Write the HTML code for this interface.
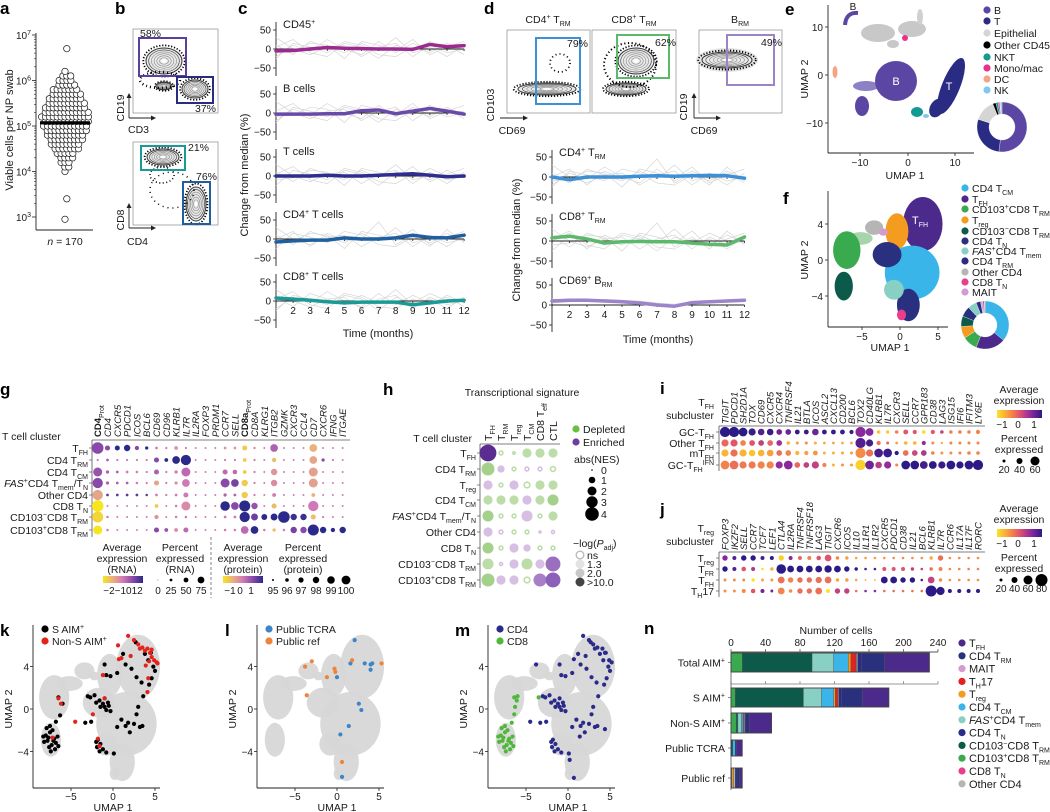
<!DOCTYPE html>
<html><head><meta charset="utf-8">
<style>
body{margin:0;background:#fff;width:1050px;height:812px;overflow:hidden}
svg{font-family:"Liberation Sans",Arial,sans-serif;display:block}
</style></head>
<body>
<svg id="fig" width="1050" height="812" viewBox="0 0 1050 812" xmlns="http://www.w3.org/2000/svg"></svg>
<script>
// ================= DATA =================
const aLogBins=[2.95,3.4,4.0,4.1,4.2,4.3,4.4,4.5,4.6,4.7,4.8,4.9,5.0,5.1,5.2,5.3,5.4,5.5,5.6,5.7,5.8,5.9,6.0,6.1,6.2,6.7];
const aCounts=[1,1,1,2,3,4,5,7,8,9,10,11,12,12,13,12,11,10,9,8,7,5,4,3,1,1];
const aMedianLog=5.07;
const aTicks=[3,4,5,6,7];
const months=[1,2,3,4,5,6,7,8,9,10,11,12];
const monthLabels=[2,3,4,5,6,7,8,9,10,11,12];
const cTitles=['CD45<tspan font-size="7" baseline-shift="4">+</tspan>','B cells','T cells','CD4<tspan font-size="7" baseline-shift="4">+</tspan> T cells','CD8<tspan font-size="7" baseline-shift="4">+</tspan> T cells'];
const cMeanCD45=[-5,-4,0,4,2,1,0,0,-1,12,6,9];
const cMeanB=[-3,-3,-3,-2,-2,6,8,-2,5,12,5,-3];
const cMeanT=[0,0,0,2,0,0,2,4,6,2,-2,0];
const cMeanCD4=[-8,-5,-3,-3,3,0,0,3,10,4,3,10];
const cMeanCD8=[8,5,2,-2,-5,-3,-3,-3,-10,-5,0,2];
const dMeanCD4TRM=[0,-7,0,0,0,2,3,2,3,4,3,-3];
const dMeanCD8TRM=[8,12,5,-5,-2,-1,-2,-2,-5,-8,-10,10];
const dMeanBRM=[10,12,12,10,8,5,0,-3,6,8,10,12];
const grayA=[10,-15,20,5,-10,15,-5,30,-10,5,-20,10];
const grayB=[-20,10,-5,25,0,-15,20,-10,15,-5,10,-15];
const grayC=[5,25,-10,-20,15,5,-25,10,-5,20,0,5];
const grayD=[-10,-5,15,10,-25,20,10,-5,25,-15,5,20];
const grayE=[30,0,-15,5,10,-20,5,15,-20,10,-10,0];
const grayF=[-25,15,5,-10,20,10,-15,-20,5,-10,15,-5];
const grayG=[0,20,-20,15,-5,0,45,-15,10,-20,25,-10];
const eCats=['B','T','Epithelial','Other CD45+','NKT','Mono/mac','DC','NK'];
const eFrac=[52,28,14,2,1.5,1,0.5,1];
const fCats=['CD4 TCM','TFH','CD103+CD8 TRM','Treg','CD103−CD8 TRM','CD4 TN','FAS+CD4 Tmem','CD4 TRM','Other CD4','CD8 TN','MAIT'];
const fFrac=[36,20,10,8,7,7,6,3,1.5,1,0.5];
const gGenes=['CD4','CD4','CXCR5','PDCD1','ICOS','BCL6','CD69','CD96','KLRB1','IL7R','IL2RA','FOXP3','PRDM1','CCR7','SELL','CD8a','CD8A','KLRG1','ITGB2','GZMK','CXCR3','CCL4','CD7','CXCR6','IFNG','ITGAE'];
const gProt=[0,15];
const gClusters=['T<tspan font-size="7" baseline-shift="-3">FH</tspan>','CD4 T<tspan font-size="7" baseline-shift="-3">RM</tspan>','CD4 T<tspan font-size="7" baseline-shift="-3">CM</tspan>','<tspan font-style="italic">FAS</tspan><tspan font-size="7" baseline-shift="4">+</tspan>CD4 T<tspan font-size="7" baseline-shift="-3">mem</tspan>/T<tspan font-size="7" baseline-shift="-3">N</tspan>','Other CD4','CD8 T<tspan font-size="7" baseline-shift="-3">N</tspan>','CD103<tspan font-size="7" baseline-shift="4">−</tspan>CD8 T<tspan font-size="7" baseline-shift="-3">RM</tspan>','CD103<tspan font-size="7" baseline-shift="4">+</tspan>CD8 T<tspan font-size="7" baseline-shift="-3">RM</tspan>'];
const gColor=[
[1,1,2,2,1,2,0,0,-0.5,0,0,0,0,-0.5,-0.5,-1.5,0,0,0.5,0,0,0,-1,0,0,0],
[0,0.5,0,0,0,0,1,2,2,2,0,0,0,0,0,-1.5,0,0,-1.2,0,0,0,-0.8,1,0,0],
[0.8,0.5,0.5,0,0,0,0.5,0,0,0.3,0,0,0,0.3,0.3,-1.5,0,0,-0.5,0,0,0,-0.7,0,0,0],
[1,0.5,0.5,0.5,0,0,-0.8,0,-0.5,0,0,0,0,1,1.2,-1.5,0,0,-0.3,0,0,0,-0.7,0,0,0],
[-0.8,1.5,1.5,1.5,1.5,1.5,0,0,0,0,0,0,0,0.5,0.5,-1.5,0,0,0,0,0,0,-1,0,0,0],
[-2,0,0,0,0,0,-1.5,0,0,-0.3,0,0,0,2,1,2,0.8,0,-1.2,0,0,0,0,0,0,0],
[-1.7,0,0,0,0,0,-0.5,0,0,0,0,0,0,0,0,2,1.3,2,2,2,1.8,1.8,-1.2,0,0,0],
[-2,0,0,0,0,0,1,0.8,-0.3,0.3,0,0,0,0,0,0.3,2,0,-1.2,0,1.2,1,2,2,2,2]];
const gSize=[
[4,1.5,1.5,2,1.2,0.8,0.6,0.4,1,0.4,0.3,0.3,0.3,0.6,0.6,1.5,0.4,0.3,2.5,0.3,0.3,0.3,2.5,0.3,0.3,0.3],
[0.4,0.6,0.4,0.4,0.4,0.4,1.5,1,2.5,3.5,0.3,0.3,0.3,0.4,0.4,1,0.4,0.3,1.2,0.3,0.3,0.3,2.5,0.8,0.4,0.3],
[3,0.8,0.6,0.6,0.5,0.4,1.5,0.4,0.8,3,0.3,0.3,0.3,1.5,1.3,1,0.4,0.3,2,0.3,0.3,0.3,3,0.3,0.3,0.3],
[3.5,0.8,0.6,0.6,0.5,0.4,1.5,0.4,0.8,2.5,0.3,0.3,0.3,3,2.5,2,0.4,0.3,2,0.3,0.3,0.3,3,0.3,0.3,0.3],
[3.5,0.6,0.6,0.6,0.6,0.5,0.6,0.4,0.6,1.5,0.3,0.3,0.3,0.8,0.6,2,0.4,0.3,1,0.3,0.3,0.3,1,0.3,0.3,0.3],
[4,0.3,0.3,0.3,0.3,0.3,1,0.3,0.5,3,0.3,0.3,0.3,3.2,2.5,3.8,2,0.3,1.5,0.3,0.3,0.3,3.5,0.3,0.3,0.3],
[3.8,0.5,0.3,0.3,0.3,0.3,1.2,0.3,0.5,0.5,0.3,0.3,0.3,0.6,0.6,3.5,2.2,1.8,2.2,4,2,2,1.5,0.4,0.3,0.3],
[3,0.5,0.3,0.3,0.3,0.3,1.5,1,1,1.5,0.3,0.3,0.3,0.5,0.5,2.5,2.5,0.5,0.8,0.5,2,2,3.8,2,1.2,2]];
const hSignatures=['FH','RM','reg','CM','CD8 T','CTL'];
const hNES=[
[4,-1,-0.6,-2,-2,-2],
[-3,1.5,-1,1,1,-1.3],
[2,-1,2,-1.5,-2,-2],
[-2,-2,-2,2,-2,-2.5],
[-2.5,-1,-1,2.5,-1,-2],
[2,1,-1,-1,0,0.8],
[-2.5,-1,2,1.5,-1,-1],
[-2.5,0.8,2,-2.5,2,3.5],
[-3,2,2,-1.5,3,3.5]];
const hSig=[
[3,0,0,1,1,1],
[2,1,0,0,0,0],
[1,0,1,0,1,1],
[1,1,1,1,1,2],
[2,0,0,1,0,1],
[1,0,0,0,0,0],
[2,0,1,1,0,0],
[1,0,1,1,1,2],
[2,1,1,0,2,2]];
const iGenes=['TIGIT','PDCD1','SH2D1A','TOX','CD69','CXCR5','CXCR4','TNFRSF4','IL21','BTLA','ICOS','ASCL2','CXCL13','CD200','BCL6','TOX2','CD40LG','KLRB1','IL7R','CXCR3','SELL','CCR7','GPR183','CD38','LAG3','ISG15','IFI6','IFITM3','LY6E'];
const iRows=['GC-T<tspan font-size="7" baseline-shift="-3">FH</tspan>','Other T<tspan font-size="7" baseline-shift="-3">FH</tspan>','mT<tspan font-size="7" baseline-shift="-3">FH</tspan>','GC-T<tspan font-size="7" baseline-shift="-3">FH</tspan><tspan font-size="7" baseline-shift="4">IFN</tspan>'];
const iColor=[
[1.5,1.5,1.5,1.4,1.2,1.4,1,1,1.4,1.4,1,1.4,1.4,1.4,1.4,0.8,0.8,-1.2,-1.3,-0.5,0,0,-1.4,0,0.3,-0.5,-0.5,-0.5,-0.5],
[-0.2,0,-0.5,0,0.3,-0.2,0.6,-1,-0.8,-0.6,-1,-0.9,-0.8,-0.9,-0.8,1.2,1.3,-0.3,-0.2,-0.8,-1,-1,0.7,-0.6,-1,-0.5,-0.5,-0.5,-0.5],
[-1,-0.3,-1,-1.2,-1,-0.8,-0.3,-0.5,-1,-0.8,-0.7,-1,-1,-0.9,-0.8,-0.6,-0.3,1.3,1.4,1.5,-0.3,0.2,0.5,-0.5,-0.7,-0.6,-0.5,-0.5,-0.5],
[-0.5,-0.3,-0.4,-0.4,-0.5,-0.5,0.7,0.8,-0.2,0.3,0.3,-0.5,-1,-0.7,-0.8,-1.3,1,0.4,0.7,-0.5,1.5,1.5,1.3,1.5,1.4,1.5,1.5,1.5,1.5]];
const iSize=[
[3,3,2.5,2,1.8,1.8,1.5,1.5,1.2,1.2,1.8,1.2,1.2,1.2,1,3,2.2,0.8,0.8,0.8,1.2,1,0.8,1,0.8,0.8,0.8,0.8,1],
[2,2,1.5,1.5,1.5,1.5,1.5,0.8,0.6,0.6,0.6,0.5,0.5,0.5,0.5,3,2,1,0.6,0.5,0.8,0.8,1,0.6,0.4,0.6,0.6,0.6,0.6],
[2,2,2,1.8,1.8,1.8,1.5,1.5,1,1,1.2,0.6,0.6,0.6,0.6,3,2,2.5,2.5,1,1.5,1.5,1.5,0.8,0.6,0.6,0.6,0.8,0.8],
[2.5,2.5,2,2,2,2,2,2.5,1.5,1.5,2,1,0.6,0.6,0.6,3,2.5,1.8,2,0.6,2.5,2.5,2.2,2.2,2,2.5,2,2.5,3]];
const jGenes=['FOXP3','IKZF2','SELL','CCR7','TCF7','LEF1','CTLA4','IL2RA','TNFRSF4','TNFRSF18','LAG3','TIGIT','CXCR6','ICOS','IL10','IL1R1','IL1R2','CXCR5','PDCD1','CD38','IL21','BCL6','KLRB1','IL7R','CCR6','IL17A','IL17F','RORC'];
const jRows=['T<tspan font-size="7" baseline-shift="-3">reg</tspan>','T<tspan font-size="7" baseline-shift="-3">FR</tspan>','T<tspan font-size="7" baseline-shift="-3">FH</tspan>','T<tspan font-size="7" baseline-shift="-3">H</tspan>17'];
const jColor=[
[0.8,1.2,1.5,1.5,1.3,1.5,-1.3,0.8,-0.2,-0.5,0,0,-0.5,-0.8,-0.8,-0.8,-0.8,-0.7,-0.6,-0.6,-0.6,-0.6,-0.9,-0.3,-0.6,-0.6,-0.6,-0.6],
[1.5,1.2,0,0.5,-1.5,-1,1.5,1.5,1.5,1.5,1.5,1.5,1.5,1.5,1.5,1.3,1.3,0,0,0,0.3,0.3,-0.3,-0.5,-0.5,-0.5,-0.5,-0.5],
[-0.6,-0.6,-0.6,-1.5,-0.8,-0.7,-0.3,-0.5,-0.3,-0.3,-0.3,-0.3,-0.9,-0.8,-0.8,-0.8,-0.8,1.5,1.5,1.5,1.5,1.3,0.3,-0.6,-0.6,-0.6,-0.6,-0.6],
[-0.6,-0.6,-0.6,0,1,1,-0.5,-0.6,-0.3,-0.3,-0.3,-1.5,0.3,0.3,-0.3,0.8,0.8,-0.3,-0.3,-0.3,-0.3,-0.3,1.5,1.5,1.5,1.5,1.5,1.5]];
const jSize=[
[1.5,1,1.5,1.5,1,1,1.5,1,1,1,1.2,2,0.8,0.8,0.5,0.5,0.5,0.5,0.5,0.5,0.5,0.5,0.8,1.5,0.5,0.5,0.5,0.5],
[1.5,1,1.2,1,0.5,0.8,3,2,2,2,2,2.2,2,1.5,0.8,0.5,0.5,1,1,1,0.8,0.5,0.8,1,0.5,0.5,0.5,0.5],
[0.6,0.6,0.6,0.8,0.6,0.6,2,1.5,1.5,1.5,1.8,2,0.8,0.8,0.5,0.2,0.2,2,2,1.5,1.5,0.5,2,0.8,0.5,0.5,0.5,0.5],
[0.6,0.6,1,1.2,1,0.6,2,0.8,1.5,1.5,2,1,1.5,1.5,0.5,0.5,0.5,0.5,0.5,0.5,0.5,0.5,3.5,2.5,1,1,1,1]];
const kSpecific=[[-8,-2.5],[-7.8,-3],[-7.5,-2.2],[-7.3,-3.4],[-7,-2.8],[-7.6,-3.6],[-8.2,-3.1],[-6.8,-3.2],[-7.2,-2.0],[-6.6,-2.6],[-7.9,-1.8],[-7.4,-4.0],[-6.9,-3.8],[-8.3,-2.6],[-7.1,-3.0],[-7.7,-2.7],[-6.5,-3.5],[-7.5,-1.6],
[-6.5,1.1],[-6,0.5],[-6.3,-0.6],[-6.8,-1.2],
[-3,1.2],[-2.7,1.1],[-2.2,1.3],[-1.6,0.8],[-1.2,0.5],[-1,0.2],[-0.8,-0.1],[-0.5,0.3],[-1.5,0.2],[-2,0.6],[-0.3,-0.2],[-1,1],[-0.6,0.6],[-3.3,-1.3],[-2.6,-1.2],
[-1.8,-2.9],[-1.5,-3.3],[-1.2,-3.8],[-1.9,-3.6],[-0.8,-4.1],[-1.6,-4.0],[0.1,-4.2],[-2.0,-3.1],
[1,-1],[1.5,-1.6],[2.5,-1.4],[3.2,-1.7],[2,-2.2],[1.8,-1.3],[3.5,-1.6],[0.5,-1.7],[3,0.2],[2.8,-0.5],
[-1,4.2],[-0.8,3.2],[-0.3,3.1],[0.5,3.4],[1.5,4.2],[2.2,3.8],[2.8,3.0],[3.4,2.5],[4.3,2.3],[4.6,2.9],[4.8,4.0],[5,3.6],[3.6,1.2],[4.2,4.6],[3.8,5.2],[2.7,6.3],[4.5,5.3],[1.2,5.2]];
const kNonSpecific=[[1.8,6.9],[2.5,6.5],[3.0,6.1],[3.5,5.8],[3.8,5.5],[4.1,5.7],[4.4,5.3],[4.6,4.9],[4.9,4.6],[5.2,4.4],[5.3,4.3],[4.3,4.5],[3.9,4.1],[4.6,5.6],[3.2,5.7],[2.1,5.0],[1.0,4.8],[0.7,4.7],[-1.2,3.2],[4.2,2.9],[4.1,1.6],[-6.5,1.0],[-6.2,0.5],[-4.5,-1.2],[-2.4,-0.5],[-1.8,-2.8],[-1.6,-3.5],[-7.2,-2.7],[-1.0,1.0],[0.6,6.0]];
const lPublicTCRA=[[2.1,6.5],[1.6,4.3],[3.3,4.3],[4.0,4.2],[4.2,4.3],[4.0,3.7],[0,3.0],[2.6,0.5],[2.9,-0.1],[1.4,-1.6],[0.4,-2.4],[0.6,-6.4]];
const lPublicRef=[[-3.8,4.0],[-3.0,4.5],[-0.3,3.8],[-0.2,3.5],[-1.2,3.0],[-3.6,1.3],[1.8,4.6],[5.3,4.3],[0.6,-5.0]];
const mCD8=[[-8,-2.5],[-7.8,-3],[-7.5,-2.2],[-7.3,-3.4],[-7,-2.8],[-7.6,-3.6],[-8.2,-3.1],[-6.8,-3.2],[-7.2,-2.0],[-6.6,-2.6],[-7.9,-1.8],[-7.4,-4.0],[-6.9,-3.8],[-8.3,-2.6],[-7.1,-3.0],[-7.7,-2.7],[-6.5,-3.5],[-7.5,-1.6],[-6.4,1.1],[-6.1,0.8],[-6.3,0.2],[-6.4,-0.5],[-6.7,-1.3],[-3.5,1.1],[-6.0,1.2]];
const mCD4=[[-3,1.2],[-2.7,1.1],[-2.2,1.3],[-1.6,0.8],[-1.2,0.5],[-1,0.2],[-0.8,-0.1],[-0.5,0.3],[-1.5,0.2],[-2,0.6],[-0.3,-0.2],[-1,1],[-0.6,0.6],[-4.5,-1.2],[-3.3,-1.3],[-2.6,-1.2],
[-1.8,-2.9],[-1.5,-3.3],[-1.2,-3.8],[-1.9,-3.6],[-0.8,-4.1],[-1.6,-4.0],[0.1,-4.2],[-2.0,-3.1],[0.7,-6.5],[0.2,-4.8],
[1,-1],[1.5,-1.6],[2.5,-1.4],[3.2,-1.7],[2,-2.2],[1.8,-1.3],[3.5,-1.6],[0.5,-1.7],[3,0.2],[2.8,-0.5],[4.4,-1.9],[1.4,-2.6],
[-3.8,4.2],[-1,4.2],[-0.8,3.2],[-0.3,3.1],[0.5,3.4],[1.5,4.2],[2.2,3.8],[2.8,3.0],[3.4,2.5],[4.3,2.3],[4.6,2.9],[4.8,4.0],[5,3.6],[3.6,1.2],[4.2,4.6],[3.8,5.2],[2.7,6.3],[4.5,5.3],[1.2,5.2],
[1.8,6.9],[2.5,6.5],[3.0,6.1],[3.5,5.8],[4.1,5.7],[4.4,5.3],[4.9,4.6],[5.2,4.4],[3.2,5.7],[2.1,5.0],[0.7,4.7]];
const nSamples=['Total AIM<tspan font-size="7" baseline-shift="4">+</tspan>','S AIM<tspan font-size="7" baseline-shift="4">+</tspan>','Non-S AIM<tspan font-size="7" baseline-shift="4">+</tspan>','Public TCRA','Public ref'];
const nSeries=['CD103+CD8 TRM','CD103−CD8 TRM','FAS+CD4 Tmem','CD4 TCM','Treg','TH17','MAIT','Other CD4','CD8 TN','CD4 TN','CD4 TRM','TFH'];
const nCounts=[
[13,81,25,17,3,6,1,1,0,4,27,52],
[5,79,21,14,2,3,0,1,0,3,24,31],
[6,2,4,2,0,1,0,1,0,1,4,26],
[0,2,0,3,0,0,0,0,0,1,0,7],
[0,1,0,0,2,0,0,2,0,2,3,3]];
const nTicks=[0,40,80,120,160,200,240];

// ================= HELPERS =================
const NS='http://www.w3.org/2000/svg';
const svg=document.getElementById('fig');
function mk(tag,attrs,parent){const e=document.createElementNS(NS,tag);for(const k in attrs)e.setAttribute(k,attrs[k]);(parent||svg).appendChild(e);return e;}
function tx(x,y,html,o){o=o||{};const e=mk('text',{x:x,y:y,'font-size':o.fs||10,'text-anchor':o.a||'start',fill:o.fill||'#1a1a1a'},o.p);if(o.rot)e.setAttribute('transform','rotate('+o.rot+' '+x+' '+y+')');if(o.it)e.setAttribute('font-style','italic');if(o.bold)e.setAttribute('font-weight','bold');e.innerHTML=html;return e;}
function line(x1,y1,x2,y2,st,w,p){return mk('line',{x1:x1,y1:y1,x2:x2,y2:y2,stroke:st||'#222','stroke-width':w||0.8},p);}
const SUB=s=>'<tspan font-size="7" baseline-shift="-3">'+s+'</tspan>';
const SUP=s=>'<tspan font-size="7" baseline-shift="4">'+s+'</tspan>';
function hex2rgb(h){return [parseInt(h.substr(1,2),16),parseInt(h.substr(3,2),16),parseInt(h.substr(5,2),16)];}
function scale(stops,lo,hi,v){let t=(v-lo)/(hi-lo);t=Math.max(0,Math.min(1,t))*(stops.length-1);const i=Math.min(stops.length-2,Math.floor(t));const f=t-i;const a=hex2rgb(stops[i]),b=hex2rgb(stops[i+1]);return 'rgb('+a.map((c,k)=>Math.round(c+(b[k]-c)*f)).join(',')+')';}
const gStops=['#f7e51d','#eab07e','#d179b6','#8a49a8','#2b2a8a'];
const pStops=['#fbe424','#f99a3d','#e2546b','#8e2a9e','#2c1a86'];
function panelLabel(x,y,s){const t=tx(x,y,s,{fs:17,bold:1,fill:'#000'});

}
const defs=mk('defs',{});
function grad(id,stops){const g=mk('linearGradient',{id:id,x1:0,x2:1,y1:0,y2:0},defs);stops.forEach((c,i)=>mk('stop',{offset:i/(stops.length-1),'stop-color':c},g));}
grad('gGrad',gStops);grad('pGrad',pStops);

['a','b','c','d'].forEach((s,i)=>panelLabel([0,115,238,484][i],14,s));
panelLabel(785,15,'e');panelLabel(783,204,'f');panelLabel(0,395,'g');panelLabel(383,395,'h');
panelLabel(660,394,'i');panelLabel(660,515,'j');panelLabel(0,636,'k');panelLabel(225,636,'l');panelLabel(455,636,'m');panelLabel(644,634,'n');

// ================= PANEL A =================
(function(){
const g=mk('g',{});


const yA=v=>217-(v-3)*45.5;
line(36,33,36,230,'#222',0.9,g);line(36,230,93,230,'#222',0.9,g);
aTicks.forEach(t=>{line(32,yA(t),36,yA(t),'#222',0.8,g);
const lb=tx(31,yA(t)+4,'10'+SUP(t),{fs:10,a:'end',p:g});

if(t<7)for(let m=2;m<10;m++){line(34,yA(t+Math.log10(m)),36,yA(t+Math.log10(m)),'#222',0.6,g);}});
const yt=tx(13,130,'Viable cells per NP swab',{fs:11,a:'middle',rot:-90,p:g});

aLogBins.forEach((b,i)=>{const n=aCounts[i];const off=(i%2)*1.8;for(let j=0;j<n;j++){const c=mk('circle',{cx:65+(j-(n-1)/2)*3.9+off,cy:yA(b),r:3.2,fill:'#fff',stroke:'#222','stroke-width':0.75},g);
}});
const med=mk('rect',{x:40,y:yA(aMedianLog)-1.6,width:50,height:3.2,fill:'#000'},g);

const nl=tx(65,245,'<tspan font-style="italic">n</tspan> = 170',{fs:10.5,a:'middle',p:g});

})();

// ================= FLOW PLOT HELPERS =================
function contour(cx,cy,rx,ry,p){
mk('ellipse',{cx:cx,cy:cy,rx:rx*1.15,ry:ry*1.2,fill:'none',stroke:'#000','stroke-width':1.8,'stroke-dasharray':'1.2 1.8'},p);
for(let k=0;k<6;k++){const f=1-k*0.15;mk('ellipse',{cx:cx,cy:cy,rx:rx*f,ry:ry*f,fill:k==0?'#e8e8e8':'none',stroke:k<2?'#333':'#888','stroke-width':k<1?1:0.6},p);}
mk('ellipse',{cx:cx,cy:cy,rx:rx*0.15,ry:ry*0.15,fill:'#fff'},p);}
function frame(x,y,w,h,p){mk('rect',{x:x,y:y,width:w,height:h,fill:'#fff',stroke:'#999','stroke-width':0.8},p);}
function gate(x,y,w,h,col,p){const r=mk('rect',{x:x,y:y,width:w,height:h,fill:'none',stroke:col,'stroke-width':2},p);

}
function axArrow(x,y,p){line(x,y,x,y-22,'#222',0.9,p);mk('path',{d:'M'+(x-2.5)+','+(y-20)+' L'+x+','+(y-25)+' L'+(x+2.5)+','+(y-20)+'Z',fill:'#222'},p);
line(x,y,x+24,y,'#222',0.9,p);mk('path',{d:'M'+(x+22)+','+(y-2.5)+' L'+(x+27)+','+y+' L'+(x+22)+','+(y+2.5)+'Z',fill:'#222'},p);}

// ================= PANEL B =================
(function(){
const g=mk('g',{});


frame(133,29,85,84,g);
contour(164,61,18,13,g);contour(195,89,13,9,g);contour(164,86,8,4,g);
mk('ellipse',{cx:160,cy:80,rx:20,ry:8,fill:'none',stroke:'#000','stroke-width':2.5,'stroke-dasharray':'1 3'},g);
gate(139,38,47,38,'#5b3f9e',g);gate(177,77,36,26,'#2a2c84',g);
tx(140,37,'58%',{fs:10.5,p:g});tx(195,112,'37%',{fs:10.5,p:g});
axArrow(129,118,g);tx(124,108,'CD19',{fs:10.5,a:'middle',rot:-90,p:g});tx(128,133,'CD3',{fs:10.5,p:g});
frame(133,142,85,83,g);
contour(163,157,16,8,g);contour(196,204,10,17,g);
mk('ellipse',{cx:172,cy:190,rx:22,ry:18,fill:'none',stroke:'#000','stroke-width':1.5,'stroke-dasharray':'1 4'},g);
mk('ellipse',{cx:162,cy:175,rx:12,ry:8,fill:'none',stroke:'#000','stroke-width':1.6,'stroke-dasharray':'1 2.5'},g);
gate(141,146,44,24,'#1a9a96',g);gate(183,182,27,42,'#1f5fa0',g);
tx(188,151,'21%',{fs:10.5,p:g});tx(196,180,'76%',{fs:10.5,p:g});
axArrow(129,228,g);tx(124,220,'CD8',{fs:10.5,a:'middle',rot:-90,p:g});tx(127,245,'CD4',{fs:10.5,p:g});
})();

// ================= PANEL C / D LINE PLOTS =================
function tsPlot(p,ax,zero,k,m1,step,mean,col,title,showMonths,grays){
line(ax,zero-27,ax,zero+27,'#222',0.9,p);
[[50,'50'],[0,'0'],[-50,'−50']].forEach(t=>{line(ax-3,zero-t[0]*k,ax,zero-t[0]*k,'#222',0.8,p);tx(ax-5,zero-t[0]*k+3.5,t[1],{fs:10,a:'end',p:p});});
const X=m=>m1+(m-1)*step;
grays.forEach(s=>{const pl=mk('polyline',{points:s.map((v,i)=>X(months[i])+','+(zero-v*k)).join(' '),fill:'none',stroke:'#d6d6d6','stroke-width':0.7},p);
});
line(ax,zero,X(12),zero,'#222',0.9,p);
months.forEach(m=>line(X(m),zero,X(m),zero+2,'#222',0.8,p));
const ml=mk('polyline',{points:mean.map((v,i)=>X(months[i])+','+(zero-v*k)).join(' '),fill:'none',stroke:col,'stroke-width':3.5,'stroke-linejoin':'round','stroke-linecap':'round'},p);


tx(ax+7,zero-21,title,{fs:11,p:p});
if(showMonths)monthLabels.forEach(m=>tx(X(m),zero+13,String(m),{fs:10,a:'middle',p:p}));}
(function(){
const g=mk('g',{});


const zs=[49,113,176,239,301];
const means=[cMeanCD45,cMeanB,cMeanT,cMeanCD4,cMeanCD8];
const cols=['#9b2a8f','#6a4aa8','#2e2e8f','#1f5fa0','#1a9a96'];
const gs=[[grayA,grayB,grayC,grayD,grayE,grayF],[grayB,grayC,grayD,grayE,grayF],[grayC,grayD,grayE,grayF,grayA],[grayD,grayE,grayF,grayA,grayG],[grayE,grayF,grayA,grayB,grayC]];
zs.forEach((z,i)=>tsPlot(g,276,z,0.38,276,17.1,means[i],cols[i],cTitles[i],i==4,gs[i]));
const tt=tx(378,337,'Time (months)',{fs:11,a:'middle',p:g});

const yt=tx(248,175,'Change from median (%)',{fs:11,a:'middle',rot:-90,p:g});

})();
(function(){
const g=mk('g',{});


frame(507,30,83,83,g);frame(592,30,84,83,g);frame(699,30,83,83,g);
contour(547,89,29,6,g);
mk('ellipse',{cx:560,cy:63,rx:10,ry:9,fill:'none',stroke:'#000','stroke-width':1.8,'stroke-dasharray':'1 3'},g);
contour(636,61,18,13,g);contour(626,89,20,6,g);
mk('ellipse',{cx:630,cy:65,rx:26,ry:22,fill:'none',stroke:'#000','stroke-width':2,'stroke-dasharray':'1.2 2.5'},g);
mk('ellipse',{cx:727,cy:60,rx:31,ry:12,fill:'#e4e4e4',stroke:'none'},g);
contour(727,60,25,8,g);
gate(536,38,44,66,'#3d8fd6',g);gate(617,35,52,43,'#5cb86a',g);gate(727,35,47,50,'#9b84c8',g);
tx(567,47,'79%',{fs:10.5,p:g});tx(655,46,'62%',{fs:10.5,p:g});tx(761,46,'49%',{fs:10.5,p:g});
tx(548,23,'CD4'+SUP('+')+' T'+SUB('RM'),{fs:10.5,a:'middle',p:g});
tx(634,23,'CD8'+SUP('+')+' T'+SUB('RM'),{fs:10.5,a:'middle',p:g});
tx(740,23,'B'+SUB('RM'),{fs:10.5,a:'middle',p:g});
tx(494,105,'CD103',{fs:10.5,a:'middle',rot:-90,p:g});
line(500,118,525,118,'#222',0.9,g);mk('path',{d:'M523,115.5 L528,118 L523,120.5Z',fill:'#222'},g);
tx(512,134,'CD69',{fs:10.5,a:'middle',p:g});
axArrow(694,118,g);tx(687,107,'CD19',{fs:10.5,a:'middle',rot:-90,p:g});tx(704,134,'CD69',{fs:10.5,a:'middle',p:g});
const zs=[177,241,305];
const means=[dMeanCD4TRM,dMeanCD8TRM,dMeanBRM];
const cols=['#3d8fd6','#5cb86a','#9b84c8'];
const titles=['CD4'+SUP('+')+' T'+SUB('RM'),'CD8'+SUP('+')+' T'+SUB('RM'),'CD69'+SUP('+')+' B'+SUB('RM')];
const gs=[[grayA,grayB,grayG,grayD,grayE,grayF],[grayC,grayD,grayE,grayF,grayG,grayA],[[5,8,12,10,6,2,-2,0,4,8,12,15],[15,12,8,14,12,10,5,2,8,10,12,10]]];
zs.forEach((z,i)=>tsPlot(g,552,z,0.4,552,17.5,means[i],cols[i],titles[i],i==2,gs[i]));
const tt=tx(658,343,'Time (months)',{fs:11,a:'middle',p:g});

const yt=tx(520,240,'Change from median (%)',{fs:11,a:'middle',rot:-90,p:g});

})();

// ================= DONUT & LEGEND HELPERS =================
function donut(cx,cy,R,r,fracs,cols,p){const tot=fracs.reduce((a,b)=>a+b,0);let a0=-Math.PI/2;
fracs.forEach((f,i)=>{const a1=a0+f/tot*2*Math.PI;const lg=(a1-a0)>Math.PI?1:0;
const d='M'+(cx+R*Math.cos(a0))+','+(cy+R*Math.sin(a0))+' A'+R+','+R+' 0 '+lg+' 1 '+(cx+R*Math.cos(a1))+','+(cy+R*Math.sin(a1))+' L'+(cx+r*Math.cos(a1))+','+(cy+r*Math.sin(a1))+' A'+r+','+r+' 0 '+lg+' 0 '+(cx+r*Math.cos(a0))+','+(cy+r*Math.sin(a0))+'Z';
const s=mk('path',{d:d,fill:cols[i],stroke:'#fff','stroke-width':0.3},p);

a0=a1;});}
function legendItem(x,y,col,html,p,fs){const c=mk('circle',{cx:x,cy:y,r:3.6,fill:col},p);

const t=tx(x+7,y+4,html,{fs:fs||10.5,p:p});
}

// ================= PANEL E =================
(function(){
const g=mk('g',{});


line(828,5,828,153,'#222',0.9,g);line(828,153,974,153,'#222',0.9,g);
[[27,'10'],[75,'0'],[123,'−10']].forEach(t=>{line(825,t[0],828,t[0],'#222',0.8,g);tx(823,t[0]+4,t[1],{fs:10,a:'end',p:g});});
[[860,'−10'],[908,'0'],[955,'10']].forEach(t=>{line(t[0],153,t[0],156,'#222',0.8,g);tx(t[0],166,t[1],{fs:10,a:'middle',p:g});});
tx(905,179,'UMAP 1',{fs:10.5,a:'middle',p:g});tx(808,79,'UMAP 2',{fs:10.5,a:'middle',rot:-90,p:g});
const E=(cx,cy,rx,ry,f,rot)=>{const e=mk('ellipse',{cx:cx,cy:cy,rx:rx,ry:ry,fill:f},g);if(rot)e.setAttribute('transform','rotate('+rot+' '+cx+' '+cy+')');return e;};
E(878,33,17,9,'#c8c8c8');E(912,29,14,8,'#c8c8c8');E(893,44,6,4,'#c8c8c8');E(920,17,3,8,'#d0d0d0');
mk('path',{d:'M845,25 Q846,12 858,13',fill:'none',stroke:'#5b47a3','stroke-width':4},g);
E(866,86,13,5,'#8e80c4');E(862,106,7,10,'#5b47a3');
E(896,81,21,20,'#5b47a3');
E(951,86,9,30,'#2a2c84',22);E(937,108,7,10,'#2a2c84',30);
E(917,112,6,5,'#139a93');E(926,116,3,2,'#7fc9ee');
E(835,72,2.5,6,'#f4a582');E(905,38,3,3,'#e8338a');
tx(896,85,'B',{fs:11,a:'middle',fill:'#fff',p:g});tx(949,90,'T',{fs:11,a:'middle',fill:'#fff',p:g});tx(853,10,'B',{fs:10,a:'middle',p:g});
const ec=['#5b47a3','#2a2c84','#d5d5d5','#000','#139a93','#e8338a','#f4a582','#7fc9ee'];
const labs=['B','T','Epithelial','Other CD45'+SUP('+'),'NKT','Mono/mac','DC','NK'];
[10,21,33,45,57,68,79,90].forEach((y,i)=>legendItem(987,y,ec[i],labs[i],g,10.5));
donut(1002,127,25,13,eFrac,ec,g);
})();

// ================= UMAP SHAPES =================
const umapShapes=[[3,4,2.6,3.0,'#4b2a8c'],[-0.4,3.2,1.5,2.0,'#f39c1f'],[-3.4,3.6,1.2,0.8,'#b5b5b5'],[-5.2,2.4,1.6,0.7,'#a6d5ab'],[-7.0,1.1,1.8,2.1,'#3aaa4e'],[-7.4,-2.9,1.2,1.6,'#0b5a4a'],[1.6,-1.4,3.6,3.0,'#39b5ea'],[-1.7,0.6,1.9,1.4,'#28307f'],[1.1,-5.0,1.5,1.8,'#28307f'],[-0.8,-3.3,1.3,1.1,'#88cfc4'],[0.2,-6.1,0.6,0.6,'#e83e8c'],[-2.2,3.1,0.6,0.4,'#d49bcf']];
function umapBg(p,x0,y0,sx,sy,colored){umapShapes.forEach(s=>{const e=mk('ellipse',{cx:x0+sx*s[0],cy:y0-sy*s[1],rx:sx*s[2],ry:sy*s[3],fill:colored?s[4]:'#d7d7d7',opacity:colored?1:0.95},p);
});}

// ================= PANEL F =================
(function(){
const g=mk('g',{});


line(828,191,828,327,'#222',0.9,g);line(828,327,948,327,'#222',0.9,g);
[[224,'4'],[260,'0'],[296,'−4']].forEach(t=>{line(825,t[0],828,t[0],'#222',0.8,g);tx(823,t[0]+4,t[1],{fs:10,a:'end',p:g});});
[[862,'−5'],[900,'0'],[938,'5']].forEach(t=>{line(t[0],327,t[0],330,'#222',0.8,g);tx(t[0],340,t[1],{fs:10,a:'middle',p:g});});
tx(890,351,'UMAP 1',{fs:10.5,a:'middle',p:g});tx(808,260,'UMAP 2',{fs:10.5,a:'middle',rot:-90,p:g});
umapBg(g,900,260,7.6,9,true);
tx(920,224,'T'+SUB('FH'),{fs:11,fill:'#fff',a:'middle',p:g});
const fc=['#39b5ea','#4b2a8c','#3aaa4e','#f39c1f','#0b5a4a','#28307f','#88cfc4','#2a2a8a','#b5b5b5','#e83e8c','#d49bcf'];
const labs=['CD4 T'+SUB('CM'),'T'+SUB('FH'),'CD103'+SUP('+')+'CD8 T'+SUB('RM'),'T'+SUB('reg'),'CD103'+SUP('−')+'CD8 T'+SUB('RM'),'CD4 T'+SUB('N'),'<tspan font-style="italic">FAS</tspan>'+SUP('+')+'CD4 T'+SUB('mem'),'CD4 T'+SUB('RM'),'Other CD4','CD8 T'+SUB('N'),'MAIT'];
[188,199,209,220,231,241,251,261,272,282,292].forEach((y,i)=>legendItem(965,y,fc[i],labs[i],g,10.5));
donut(985,325,24,12,fFrac,fc,g);
})();

// ================= PANEL G =================
(function(){
const g=mk('g',{});


const rows=[448,460,472,483,495,506,517,530];
const X=i=>97.7+i*9.8;
line(92,440,92,537,'#555',0.8,g);line(92,440,350,440,'#555',0.8,g);
tx(2,440,'T cell cluster',{fs:10.5,p:g});
gGenes.forEach((gn,i)=>{const prot=gProt.indexOf(i)>=0;
const t=tx(X(i)+3.5,437,prot?'<tspan font-weight="bold">'+gn+'</tspan>'+SUB('Prot'):gn,{fs:9.5,rot:-90,it:!prot,p:g});
});
gClusters.forEach((c,r)=>{const t=tx(88,rows[r]+4,c,{fs:10.5,a:'end',p:g});

line(89,rows[r],92,rows[r],'#555',0.7,g);
gGenes.forEach((gn,i)=>{const d=mk('circle',{cx:X(i),cy:rows[r],r:0.6+1.3*gSize[r][i],fill:scale(gStops,-2,2,gColor[r][i])},g);
});});
[['Average','expression','(RNA)',122],['Percent','expressed','(RNA)',180],['Average','expression','(protein)',243],['Percent','expressed','(protein)',303]].forEach(l=>{tx(l[3],551,l[0],{fs:10.5,a:'middle',p:g});tx(l[3],562,l[1],{fs:10.5,a:'middle',p:g});tx(l[3],573,l[2],{fs:10.5,a:'middle',p:g});});
mk('rect',{x:103,y:576,width:40,height:7,fill:'url(#gGrad)'},g);
tx(123,594,'−2−1012',{fs:10,a:'middle',p:g});
[[158,0.4,'0'],[171,1.4,'25'],[186,2.4,'50'],[201,3.4,'75']].forEach(d=>{mk('circle',{cx:d[0],cy:580,r:d[1],fill:'#000'},g);tx(d[0],594,d[2],{fs:10,a:'middle',p:g});});
line(211,537,211,598,'#666',0.8,g).setAttribute('stroke-dasharray','3 2');
mk('rect',{x:223,y:576,width:40,height:7,fill:'url(#gGrad)'},g);
tx(230,594,'−1',{fs:10,a:'middle',p:g});tx(240,594,'0',{fs:10,a:'middle',p:g});tx(251,594,'1',{fs:10,a:'middle',p:g});
[[273,1,'95'],[287,1.8,'96'],[301,2.6,'97'],[316,3.2,'98'],[331,3.8,'99'],[346,4.4,'100']].forEach(d=>{mk('circle',{cx:d[0],cy:580,r:d[1],fill:'#000'},g);tx(d[0],594,d[2],{fs:10,a:'middle',p:g});});
})();

// ================= PANEL H =================
(function(){
const g=mk('g',{});


const rows=[453,469,485,500,516,532,548,564,580];
const cols=[488,501,514,527,540,553];
tx(522,396,'Transcriptional signature',{fs:10.5,a:'middle',p:g});
line(480,444,480,588,'#555',0.8,g);line(480,444,560,444,'#555',0.8,g);
const hdr=['T'+SUB('FH'),'T'+SUB('RM'),'T'+SUB('reg'),'T'+SUB('CM'),'CD8 T'+SUB('eff'),'CTL'];
hdr.forEach((h,i)=>{const t=tx(cols[i]+4,441,h,{fs:10.5,rot:-90,p:g});
});
tx(472,442,'T cell cluster',{fs:10.5,a:'end',p:g});
const hRowsLbl=['T'+SUB('FH'),'CD4 T'+SUB('RM'),'T'+SUB('reg'),'CD4 T'+SUB('CM'),'<tspan font-style="italic">FAS</tspan>'+SUP('+')+'CD4 T'+SUB('mem')+'/T'+SUB('N'),'Other CD4','CD8 T'+SUB('N'),'CD103'+SUP('−')+'CD8 T'+SUB('RM'),'CD103'+SUP('+')+'CD8 T'+SUB('RM')];
const greens=['#cfe7c0','#bcdda8','#a4d18a','#7fbf5e'],purples=['#e2d2ea','#d6bfe3','#b893cf','#5c2d91'];
hRowsLbl.forEach((l,r)=>{const t=tx(476,rows[r]+4,l,{fs:10.5,a:'end',p:g});

line(477,rows[r],480,rows[r],'#555',0.7,g);
cols.forEach((x,c)=>{const v=hNES[r][c],s=hSig[r][c];const pal=v<0?greens:purples;const rad=0.8+1.9*Math.abs(v);
const d=mk('circle',{cx:x,cy:rows[r],r:s==0?Math.max(rad-0.8,1):rad,fill:s==0?'#fff':pal[Math.min(3,s)],stroke:s==0?pal[1]:'none','stroke-width':1.6},g);
if(r==0&&c==0)d.setAttribute('fill','#5c2d91');
if(r==8&&c==5)d.setAttribute('fill','#8c5fb8');
if(r==7&&c==5)d.setAttribute('fill','#9a6fc0');
if(r==8&&c==4)d.setAttribute('fill','#a77fc8');
});});
legendItem(576,429,'#6cbf3f','Depleted',g,10.5);legendItem(576,442,'#6b3fa0','Enriched',g,10.5);
tx(574,463,'abs(NES)',{fs:10.5,p:g});
[[470,0.8,'0'],[480,3.3,'1'],[491,4.5,'2'],[502,5.7,'3'],[514,6.8,'4']].forEach(d=>{mk('circle',{cx:592,cy:d[0],r:d[1],fill:'#000'},g);tx(601,d[0]+4,d[2],{fs:10.5,p:g});});
tx(573,547,'−log(<tspan font-style="italic">P</tspan>'+SUB('adj')+')',{fs:10.5,p:g});
mk('circle',{cx:580,cy:555,r:3.8,fill:'#fff',stroke:'#bbb','stroke-width':1.4},g);tx(587,559,'ns',{fs:10.5,p:g});
mk('circle',{cx:580,cy:564,r:4.5,fill:'#e3e3e3'},g);tx(587,568,'1.3',{fs:10.5,p:g});
mk('circle',{cx:580,cy:573,r:4.5,fill:'#c8c8c8'},g);tx(587,577,'2.0',{fs:10.5,p:g});
mk('circle',{cx:580,cy:582,r:4.5,fill:'#444'},g);tx(587,586,'>10.0',{fs:10.5,p:g});
})();

// ================= PANEL I / J =================
function subDot(p,genes,rowLbls,colors,sizes,rowsY,top,h1,h2,legY,sizeLbls,rs){
const X=i=>725+i*(253/(genes.length-1));
line(719,top,719,rowsY[3]+6,'#555',0.8,p);line(719,top,985,top,'#555',0.8,p);
genes.forEach((gn,i)=>{const t=tx(X(i)+3.5,top-2,gn,{fs:9.5,rot:-90,it:1,p:p});
});
tx(714,top-20,h1,{fs:10.5,a:'end',p:p});tx(714,top-7,'subcluster',{fs:10.5,a:'end',p:p});
rowLbls.forEach((l,r)=>{const t=tx(714,rowsY[r]+4,l,{fs:10.5,a:'end',p:p});

line(716,rowsY[r],719,rowsY[r],'#555',0.7,p);
genes.forEach((gn,i)=>{const d=mk('circle',{cx:X(i),cy:rowsY[r],r:rs[0]+rs[1]*sizes[r][i],fill:scale(pStops,-1.5,1.5,colors[r][i])},p);
});});
tx(1019,legY,'Average',{fs:10.5,a:'middle',p:p});tx(1019,legY+11,'expression',{fs:10.5,a:'middle',p:p});
mk('rect',{x:997,y:legY+17,width:45,height:8,fill:'url(#pGrad)'},p);
tx(1002,legY+35,'−1',{fs:10,a:'middle',p:p});tx(1018,legY+35,'0',{fs:10,a:'middle',p:p});tx(1034,legY+35,'1',{fs:10,a:'middle',p:p});
tx(1019,legY+49,'Percent',{fs:10.5,a:'middle',p:p});tx(1019,legY+60,'expressed',{fs:10.5,a:'middle',p:p});
sizeLbls.forEach((s,k)=>{const x=sizeLbls.length==3?1004+k*15.5:1001+k*13.5;mk('circle',{cx:x,cy:legY+68,r:1.5+k*1.5,fill:'#000'},p);tx(x,legY+80,s,{fs:10,a:'middle',p:p});});}
(function(){
const g=mk('g',{});


subDot(g,iGenes,iRows,iColor,iSize,[432,443,453,465],426,'T'+SUB('FH'),'',393,['20','40','60'],[0.6,1.5]);
})();
(function(){
const g=mk('g',{});


subDot(g,jGenes,jRows,jColor,jSize,[558,569,580,591],552,'T'+SUB('reg'),'',512,['20','40','60','80'],[0.6,1.4]);
})();

// ================= PANELS K L M =================
function umapSmall(name,x0,legend,sets){
const g=mk('g',{});


const ax=x0-80,y0=709,sx=8.4,sy=10.6;
umapBg(g,x0,y0,sx,sy,false);
line(ax,625,ax,788,'#222',0.9,g);line(ax,788,ax+127,788,'#222',0.9,g);
[[4,'4'],[0,'0'],[-4,'−4']].forEach(t=>{const y=y0-sy*t[0];line(ax-3,y,ax,y,'#222',0.8,g);tx(ax-4,y+4,t[1],{fs:10,a:'end',p:g});});
[[-5,'−5'],[0,'0'],[5,'5']].forEach(t=>{const x=x0+sx*t[0];line(x,788,x,791,'#222',0.8,g);tx(x,800,t[1],{fs:10,a:'middle',p:g});});
tx(x0,811,'UMAP 1',{fs:10.5,a:'middle',p:g});tx(ax-21,y0,'UMAP 2',{fs:10.5,a:'middle',rot:-90,p:g});
sets.forEach(s=>{s.pts.forEach(pt=>{const c=mk('circle',{cx:x0+sx*pt[0],cy:y0-sy*pt[1],r:2.1,fill:s.col},g);
});});
legend.forEach((l,i)=>legendItem(ax+12,629+i*12,l[0],l[1],g,10.5));}
umapSmall('panel-k-aim-umap',113,[['#000','S AIM'+SUP('+')],['#e3221c','Non-S AIM'+SUP('+')]],[{pts:kSpecific,col:'#000',name:'s-aim-cell'},{pts:kNonSpecific,col:'#e3221c',name:'non-s-aim-cell'}]);
umapSmall('panel-l-public-tcr-umap',337,[['#3d85c6','Public TCRA'],['#f0833a','Public ref']],[{pts:lPublicTCRA,col:'#3d85c6',name:'public-tcra-cell'},{pts:lPublicRef,col:'#f0833a',name:'public-ref-cell'}]);
umapSmall('panel-m-cd4-cd8-umap',568,[['#2a2a8a','CD4'],['#4fb83a','CD8']],[{pts:mCD4,col:'#2a2a8a',name:'cd4-cell'},{pts:mCD8,col:'#4fb83a',name:'cd8-cell'}]);

// ================= PANEL N =================
(function(){
const g=mk('g',{});


const X=v=>731+v*(207/240);
const barY=[653,688,713,740,768],barH=[19,19,20,16,20];
const sc={'CD103+CD8 TRM':'#3aaa4e','CD103−CD8 TRM':'#0b5a4a','FAS+CD4 Tmem':'#88cfc4','CD4 TCM':'#39b5ea','Treg':'#f39c1f','TH17':'#e3221c','MAIT':'#d49bcf','Other CD4':'#b5b5b5','CD8 TN':'#e83e8c','CD4 TN':'#2a2a8a','CD4 TRM':'#29317f','TFH':'#4b2a8c'};
tx(836,634,'Number of cells',{fs:10.5,a:'middle',p:g});
line(731,652,938,652,'#555',0.9,g);
nTicks.forEach(t=>{line(X(t),649,X(t),652,'#555',0.8,g);tx(X(t),646,String(t),{fs:10,a:'middle',p:g});line(X(t),681,X(t),684,'#777',0.7,g);});
line(731,684,938,684,'#777',0.8,g);
line(731,652,731,790,'#555',0.8,g);
nSamples.forEach((s,i)=>{const t=tx(725,barY[i]+barH[i]/2+4,s,{fs:10.5,a:'end',p:g});

line(728,barY[i]+barH[i]/2,731,barY[i]+barH[i]/2,'#555',0.7,g);
let acc=0;nSeries.forEach((se,k)=>{const v=nCounts[i][k];if(v<=0)return;const r=mk('rect',{x:X(acc),y:barY[i],width:X(acc+v)-X(acc),height:barH[i],fill:sc[se],stroke:'#555','stroke-width':0.4},g);

acc+=v;});
const o=mk('rect',{x:731,y:barY[i],width:X(acc)-731,height:barH[i],fill:'none',stroke:'#444','stroke-width':0.9},g);
});
const legOrder=['TFH','CD4 TRM','MAIT','TH17','Treg','CD4 TCM','FAS+CD4 Tmem','CD4 TN','CD103−CD8 TRM','CD103+CD8 TRM','CD8 TN','Other CD4'];
const legLbl=['T'+SUB('FH'),'CD4 T'+SUB('RM'),'MAIT','T'+SUB('H')+'17','T'+SUB('reg'),'CD4 T'+SUB('CM'),'<tspan font-style="italic">FAS</tspan>'+SUP('+')+'CD4 T'+SUB('mem'),'CD4 T'+SUB('N'),'CD103'+SUP('−')+'CD8 T'+SUB('RM'),'CD103'+SUP('+')+'CD8 T'+SUB('RM'),'CD8 T'+SUB('N'),'Other CD4'];
legOrder.forEach((k,i)=>legendItem(962,643+i*12.8,sc[k],legLbl[i],g,11));
})();
</script>
</body></html>
